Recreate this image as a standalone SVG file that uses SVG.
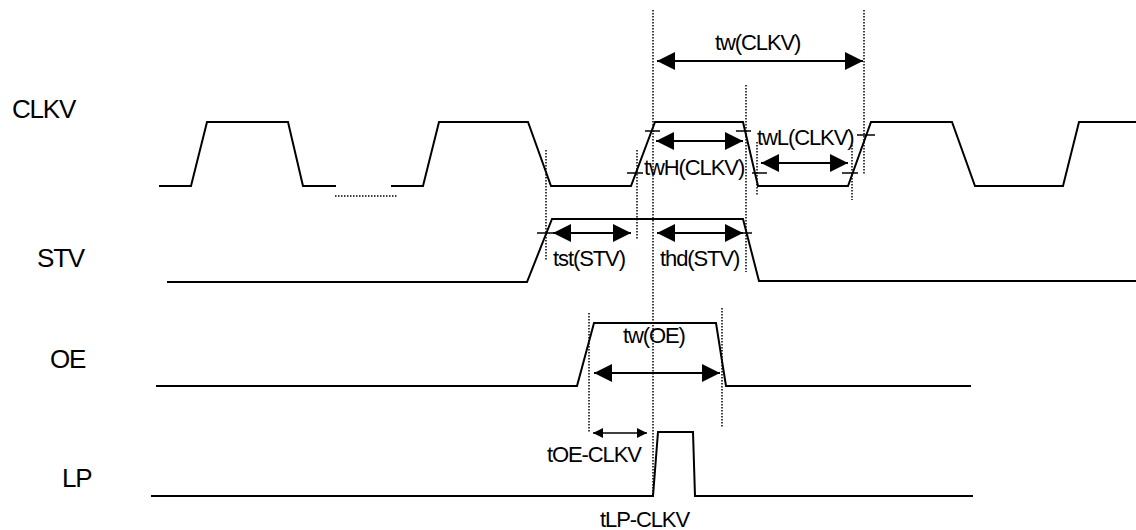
<svg xmlns="http://www.w3.org/2000/svg" width="1136" height="530" viewBox="0 0 1136 530">
<defs>
<marker id="ah" markerUnits="userSpaceOnUse" markerWidth="18" markerHeight="18" viewBox="0 0 18 18" refX="18" refY="9" orient="auto-start-reverse"><path d="M0,0 L18,9 L0,18 z" fill="#000"/></marker>
<marker id="as" markerUnits="userSpaceOnUse" markerWidth="10" markerHeight="10" viewBox="0 0 10 10" refX="10" refY="5" orient="auto-start-reverse"><path d="M0,0 L10,5 L0,10 z" fill="#000"/></marker>
</defs>
<style>
.sig{fill:none;stroke:#000;stroke-width:2;stroke-linejoin:miter}
.dot{fill:none;stroke:#000;stroke-width:1.5;stroke-dasharray:1.5,1.5}
.tick{stroke:#000;stroke-width:1.5}
.arr{stroke:#000;stroke-width:2;marker-start:url(#ah);marker-end:url(#ah)}
.arrs{stroke:#000;stroke-width:1.5;marker-start:url(#as);marker-end:url(#as)}
.lbl{font-family:"Liberation Sans",Arial,sans-serif;font-size:26px;letter-spacing:-1.2px;fill:#000}
.ann{font-family:"Liberation Sans",Arial,sans-serif;font-size:22px;letter-spacing:-1.1px;fill:#000}
</style>
<rect width="1136" height="530" fill="#fff"/>
<g id="labels">
<text class="lbl" x="12" y="118">CLKV</text>
<text class="lbl" x="37" y="267">STV</text>
<text class="lbl" x="50" y="368">OE</text>
<text class="lbl" x="62" y="487">LP</text>
</g>
<g id="clkv">
<polyline class="sig" points="159,186 191,186 207,122 288,122 303,186 336,186"/>
<polyline class="sig" points="391,186 423,186 439,122 528,122 551,186 631,186 655,122 743,122 758,186 848,186 871,122 952,122 975,186 1063,186 1079,122 1136,122"/>
<line class="dot" x1="335" y1="196" x2="397" y2="196"/>
</g>
<g id="stv">
<polyline class="sig" points="167,282 527,282 552,219 743,219 759,281 1136,281"/>
</g>
<g id="oe">
<polyline class="sig" points="156,386 577,386 594,323 716,323 726,386 971,386"/>
</g>
<g id="lp">
<polyline class="sig" points="151,496 653,496 658,432 693,432 695,496 973,496"/>
</g>
<g id="connectors">
<line class="dot" x1="653" y1="10" x2="653" y2="497"/>
<line class="dot" x1="864" y1="10" x2="864" y2="175"/>
<line class="dot" x1="746" y1="85" x2="746" y2="272"/>
<line class="dot" x1="637" y1="150" x2="637" y2="240"/>
<line class="dot" x1="546" y1="150" x2="546" y2="260"/>
<line class="dot" x1="757" y1="142" x2="757" y2="195"/>
<line class="dot" x1="852" y1="145" x2="852" y2="200"/>
<line class="dot" x1="589" y1="313" x2="589" y2="432"/>
<line class="dot" x1="722" y1="308" x2="722" y2="428"/>
<line class="tick" x1="645" y1="131" x2="660" y2="131"/>
<line class="tick" x1="736" y1="131" x2="751" y2="131"/>
<line class="tick" x1="627" y1="173" x2="643" y2="173"/>
<line class="tick" x1="752" y1="173" x2="767" y2="173"/>
<line class="tick" x1="842" y1="173" x2="858" y2="173"/>
<line class="tick" x1="857" y1="135" x2="875" y2="135"/>
<line class="tick" x1="537" y1="233" x2="556" y2="233"/>
<line class="tick" x1="733" y1="233" x2="752" y2="233"/>
<line class="arr" x1="657" y1="61" x2="863" y2="61"/>
<line class="arr" x1="656" y1="141" x2="743" y2="141"/>
<line class="arr" x1="761" y1="163" x2="848" y2="163"/>
<line class="arr" x1="553" y1="233" x2="631" y2="233"/>
<line class="arr" x1="657" y1="233" x2="743" y2="233"/>
<line class="arr" x1="594" y1="373" x2="720" y2="373"/>
<line class="arrs" x1="593" y1="433" x2="647" y2="433"/>
</g>
<g id="annotations">
<text class="ann" x="715" y="50">tw(CLKV)</text>
<text class="ann" x="644" y="175">twH(CLKV)</text>
<text class="ann" x="757" y="145">twL(CLKV)</text>
<text class="ann" x="553" y="266">tst(STV)</text>
<text class="ann" x="660" y="266">thd(STV)</text>
<text class="ann" x="623" y="343">tw(OE)</text>
<text class="ann" x="547" y="462">tOE-CLKV</text>
<text class="ann" x="600" y="527">tLP-CLKV</text>
</g>
</svg>
